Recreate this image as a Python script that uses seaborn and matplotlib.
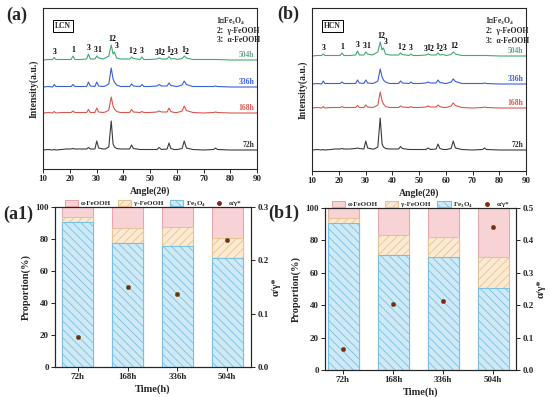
import numpy as np
import pandas as pd
import seaborn as sns
import matplotlib.pyplot as plt
from matplotlib.patches import Patch
from matplotlib.lines import Line2D

# ---- XRD data (heights above each pattern's baseline) ----
angles = [10, 12, 13.6, 14.2, 14.8, 17, 18.5, 20.5, 21.2, 21.9, 24, 26.3, 27.0, 27.7,
          29.4, 30.1, 30.8, 32.5, 33.3, 34.6, 35.5, 36.2, 36.7, 37.5, 39, 42.4, 43.1,
          43.8, 46.3, 47.0, 47.7, 50, 52.6, 53.4, 54.3, 56.4, 57.1, 57.8, 59.0, 59.6,
          60.2, 62.0, 62.8, 63.6, 66, 70, 73.8, 74.5, 75.2, 80, 85, 90]

lcn_72h = [0, 0.5, 0, 0.5, 0, 0.5, 1, 1, 1.5, 1, 1, 1, 2.5, 1,
           1, 9, 2, 1, 1, 3, 29, 6, 3, 1.5, 1, 1, 5,
           1.5, 0.5, 0.5, 0.5, 0.5, 0.5, 2.5, 0.5, 1, 7, 1.5, 0.5, 0.5,
           0.5, 1.5, 9, 2, 0.5, 0, 0.5, 2, 0.5, 0, 0, 0]
lcn_168h = [0, 0.5, 0, 1.5, 0, 0.5, 0.5, 0.5, 2, 0.5, 0.5, 0.5, 3.5, 0.5,
            0.5, 5, 1, 0.5, 1, 3, 16, 7, 4, 1.5, 0.5, 0.5, 3.5,
            1, 0.5, 1.5, 0.5, 0.5, 1, 2, 1, 1, 5, 1.5, 0.5, 0.5,
            0.5, 2, 7, 2.5, 0.5, 0, 0.5, 1, 0.5, 0, 0, 0]
lcn_336h = [0, 0.5, 0, 2.5, 0.5, 0.5, 0.5, 0.5, 2.5, 0.5, 0.5, 0.5, 5, 1,
            0.5, 5, 1, 0.5, 1, 3, 19, 8, 5, 2, 0.5, 0.5, 3,
            1, 0.5, 2.5, 0.5, 0.5, 1, 2.5, 1, 1, 4, 1.5, 1, 0.5,
            0.5, 2, 6, 2.5, 0.5, 0.5, 0.5, 1, 0.5, 0, 0, 0]
lcn_504h = [0, 0.5, 0.5, 2.5, 0.5, 0.5, 0.5, 0.5, 4, 0.5, 0.5, 1, 6, 1,
            1, 4, 2, 1, 2, 4, 15, 6, 8, 2, 1, 1, 3,
            1.5, 0.5, 3, 0.5, 0.5, 1, 2, 1, 1, 3.5, 1, 1.5, 1,
            0.5, 1.5, 4, 2, 0.5, 0.5, 0.5, 0.5, 0.5, 0, 0, 0]

hcn_72h = [0, 0.5, 0, 0.5, 0, 0.5, 1, 1, 1.5, 1, 1, 1.5, 2, 1.5,
           1, 9, 2, 1, 1, 3, 32, 6, 3, 1.5, 1, 1, 3.5,
           1.5, 0.5, 0.5, 0.5, 0.5, 0.5, 2, 0.5, 1, 6, 1.5, 0.5, 0.5,
           0.5, 1.5, 9, 2, 0.5, 0, 0.5, 2, 0.5, 0, 0, 0]
hcn_168h = [0, 0.5, 0, 1.5, 0, 0.5, 0.5, 0.5, 1.5, 0.5, 0.5, 0.5, 2.5, 0.5,
            0.5, 3, 1, 0.5, 1, 3, 16, 7, 4, 1.5, 0.5, 0.5, 2,
            1, 0.5, 1.5, 0.5, 0.5, 1, 2, 1, 1, 3, 1.5, 0.5, 0.5,
            0.5, 2, 5, 2.5, 0.5, 0, 0.5, 1, 0.5, 0, 0, 0]
hcn_336h = [0, 0.5, 0, 3, 0.5, 0.5, 0.5, 0.5, 2, 0.5, 0.5, 0.5, 4, 1,
            0.5, 4, 1, 0.5, 1, 3, 15, 7, 4, 2, 0.5, 0.5, 3,
            1, 0.5, 2, 0.5, 0.5, 1, 2, 1, 1, 4, 1.5, 1, 0.5,
            0.5, 2, 5, 2.5, 0.5, 0.5, 0.5, 1, 0.5, 0, 0, 0]
hcn_504h = [0, 0.5, 0.5, 2, 0.5, 0.5, 0.5, 0.5, 3, 0.5, 0.5, 1, 5, 1,
            1, 4, 2, 1, 2, 4, 14, 6, 8, 2, 1, 1, 3,
            1.5, 0.5, 2, 0.5, 0.5, 1, 2, 1, 1, 3, 1, 1.5, 1,
            0.5, 1.5, 4, 2, 0.5, 0.5, 0.5, 0.5, 0.5, 0, 0, 0]

sample_names = ['72h', '168h', '336h', '504h']
lcn_offsets = [19, 56, 82, 109]
hcn_offsets = [21, 63, 87, 115]

# peak assignment labels above the 504h pattern
lcn_peak_angles = [14.2, 21.2, 27.0, 29.6, 30.9, 35.1, 36.2, 37.4, 42.7, 44.4, 47.0,
                   52.3, 53.5, 54.7, 56.8, 58.1, 59.7, 62.3, 63.6]
hcn_peak_angles = [14.2, 21.2, 27.0, 29.6, 30.9, 35.1, 36.2, 37.4, 42.7, 44.4, 47.0,
                   52.5, 53.6, 54.8, 56.8, 58.1, 59.6, 62.3, 63.5]
peak_labels = ['3', '1', '3', '3', '1', '1', '2', '3', '1', '2', '3',
               '3', '1', '2', '1', '2', '3', '1', '2']

# ---- phase proportions ----
times = ['72h', '168h', '336h', '504h']
lcn_fe3o4 = [90.6, 77.4, 75.9, 68.4]
lcn_gamma = [3.4, 9.4, 11.9, 12.2]
lcn_ratio = [0.057, 0.150, 0.137, 0.239]
hcn_fe3o4 = [90.7, 71.1, 69.7, 50.5]
hcn_gamma = [3.1, 12.0, 12.7, 19.0]
hcn_ratio = [0.064, 0.204, 0.213, 0.442]

sns.set_theme(style='ticks')
plt.rcParams['font.family'] = ['Liberation Serif', 'Noto Sans CJK SC', 'DejaVu Serif']
plt.rcParams['font.weight'] = 'bold'
plt.rcParams['axes.labelweight'] = 'bold'
plt.rcParams['mathtext.fontset'] = 'custom'
plt.rcParams['mathtext.rm'] = 'Liberation Serif:bold'
plt.rcParams['hatch.linewidth'] = 0.6
plt.rcParams['axes.linewidth'] = 0.8

W, H = 550, 397
fig = plt.figure(figsize=(5.5, 3.97), dpi=100)


def px_axes(x0, y0, x1, y1):
    return fig.add_axes([x0 / W, 1 - y1 / H, (x1 - x0) / W, (y1 - y0) / H])


line_colors = ['#3c3c3c', '#d9574d', '#3a5fd8', '#45a870']
label_colors = ['#333333', '#d9574d', '#3a5fd8', '#6aa68a']


def xrd_panel(ax, curves, offsets, top, peak_angles, tag):
    for name, vals, off, c in zip(sample_names, curves, offsets, line_colors):
        df = pd.DataFrame({'angle': angles, 'I': np.array(vals) + off})
        sns.lineplot(data=df, x='angle', y='I', color=c, linewidth=0.8, ax=ax)
    for name, off, c in zip(sample_names, offsets, label_colors):
        ax.text(89, off + 1, name, color=c, fontsize=5.5, ha='right', va='bottom')
    top_curve = np.array(curves[-1]) + offsets[-1]
    for a, lab in zip(peak_angles, peak_labels):
        win = [v for x, v in zip(angles, top_curve) if abs(x - a) <= 0.8]
        y = max(win) if win else np.interp(a, angles, top_curve)
        ax.text(a, y + 2, lab, fontsize=5.5, ha='center', va='bottom', color='black')
    ax.set_xlim(10, 90)
    ax.set_ylim(0, top)
    ax.set_xticks(range(10, 91, 10))
    ax.set_yticks([])
    ax.tick_params(axis='x', direction='out', length=3, width=0.7, labelsize=6.5, pad=1.5)
    ax.set_xlabel('Angle(2θ)', fontsize=7, labelpad=2)
    ax.set_ylabel('Intensity(a.u.)', fontsize=7, labelpad=3)
    ax.text(0.055, 0.89, tag, transform=ax.transAxes, fontsize=5.5, va='center',
            bbox=dict(boxstyle='square,pad=0.25', fc='white', ec='black', lw=0.7))
    ax.text(0.81, 0.92, '1：Fe$_3$O$_4$', transform=ax.transAxes, fontsize=5.5, va='center')
    ax.text(0.81, 0.86, '2：γ-FeOOH', transform=ax.transAxes, fontsize=5.5, va='center')
    ax.text(0.81, 0.80, '3：α-FeOOH', transform=ax.transAxes, fontsize=5.5, va='center')


ax_a = px_axes(43, 8, 257, 169)
xrd_panel(ax_a, [lcn_72h, lcn_168h, lcn_336h, lcn_504h], lcn_offsets, 161,
          lcn_peak_angles, 'LCN')
ax_b = px_axes(312, 8, 526, 171)
xrd_panel(ax_b, [hcn_72h, hcn_168h, hcn_336h, hcn_504h], hcn_offsets, 163,
          hcn_peak_angles, 'HCN')

alpha_fc, alpha_ec = '#f8d3d6', '#e6a6ab'
gamma_fc, gamma_ec = '#fbe9d2', '#e5c396'
fe_fc, fe_ec = '#cfeaf6', '#78c0e4'
dot_c = '#7e2a12'


def bar_panel(ax, fe3o4, gamma, ratio, rmax, xlim):
    fe3o4 = np.array(fe3o4)
    gamma = np.array(gamma)
    total = np.full(len(times), 100.0)
    sns.barplot(x=times, y=total, color=alpha_fc, saturation=1, width=0.62,
                edgecolor=alpha_ec, linewidth=0.8, ax=ax)
    sns.barplot(x=times, y=fe3o4 + gamma, color=gamma_fc, saturation=1, width=0.62,
                edgecolor=gamma_ec, linewidth=0.8, hatch='////', ax=ax)
    sns.barplot(x=times, y=fe3o4, color=fe_fc, saturation=1, width=0.62,
                edgecolor=fe_ec, linewidth=0.8, hatch='\\\\\\\\', ax=ax)
    ax.set_xlim(*xlim)
    ax.set_ylim(0, 100)
    ax.set_yticks(range(0, 101, 20))
    ax.tick_params(direction='out', length=3, width=0.7, labelsize=6.5, pad=1.5)
    ax.set_xlabel('Time(h)', fontsize=7.5, labelpad=2)
    ax.set_ylabel('Proportion(%)', fontsize=7.5, labelpad=3)
    ax2 = ax.twinx()
    sns.scatterplot(x=list(range(len(times))), y=ratio, color=dot_c, s=10,
                    edgecolor='#556b2f', linewidth=0.4, ax=ax2, zorder=5)
    ax2.set_ylim(0, rmax)
    ax2.set_yticks(np.round(np.arange(0, rmax + 0.001, 0.1), 1))
    ax2.tick_params(direction='out', length=3, width=0.7, labelsize=6.5, pad=1.5)
    ax2.set_ylabel('α/γ*', fontsize=7.5, labelpad=2)
    ax2.set_xlim(*xlim)
    handles = [Patch(fc=alpha_fc, ec=alpha_ec, lw=0.8),
               Patch(fc=gamma_fc, ec=gamma_ec, lw=0.8, hatch='////'),
               Patch(fc=fe_fc, ec=fe_ec, lw=0.8, hatch='\\\\\\\\'),
               Line2D([], [], ls='', marker='o', ms=2.5, color=dot_c)]
    ax.legend(handles, ['α-FeOOH', 'γ-FeOOH', 'Fe$_3$O$_4$', 'α/γ*'], ncol=4,
              loc='lower center', bbox_to_anchor=(0.5, 0.99), frameon=False,
              fontsize=5, handlelength=1.9, handleheight=1.0, columnspacing=1.0,
              handletextpad=0.4, borderaxespad=0, borderpad=0)


ax_a1 = px_axes(55, 207, 251, 367)
bar_panel(ax_a1, lcn_fe3o4, lcn_gamma, lcn_ratio, 0.3, (-0.46, 3.48))
ax_b1 = px_axes(325, 208, 516, 370)
bar_panel(ax_b1, hcn_fe3o4, hcn_gamma, hcn_ratio, 0.5, (-0.36, 3.46))

for lab, x, y in [('(a)', 6, 15), ('(b)', 277, 14), ('(a1)', 3, 214), ('(b1)', 268, 213)]:
    fig.text(x / W, 1 - y / H, lab, fontsize=13, fontweight='bold', va='center', ha='left')

fig.savefig('out.png', dpi=100)
